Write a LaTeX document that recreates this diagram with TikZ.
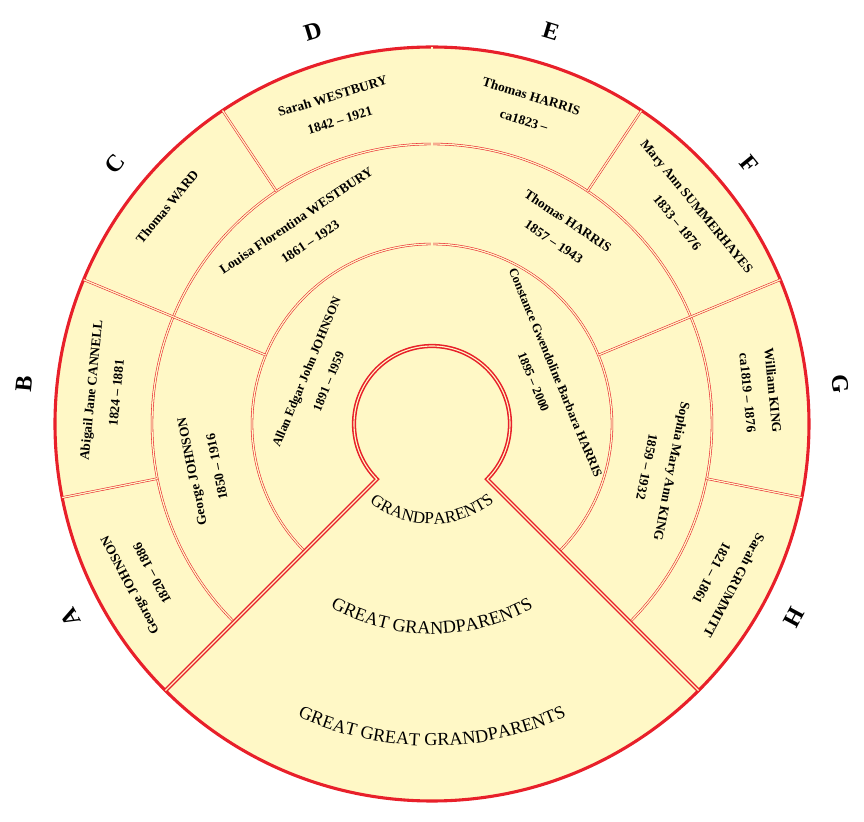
\documentclass[tikz,border=0pt]{standalone}
\usepackage{fontspec}
\setmainfont{Liberation Serif}
\usetikzlibrary{decorations.text}
\definecolor{fanfill}{HTML}{FFF8C6}
\definecolor{fanred}{HTML}{E8202A}
\tikzset{
  fanline/.style={draw=fanred, double=fanfill, double distance=0.9pt, line width=0.4pt},
  fanedge/.style={draw=fanred, double=fanfill, double distance=0.8pt, line width=1.1pt},
  person/.style={font=\bfseries\fontsize{9.5}{18}\selectfont, align=center, inner sep=0pt},
  gen/.style={font=\bfseries\fontsize{17}{17}\selectfont, inner sep=0pt},
}
\begin{document}
\begin{tikzpicture}[x=0.025cm,y=0.025cm]
  \useasboundingbox (-432,-398) rectangle (432,424);

  % fond et cercle exterieur
  \fill[fanfill] (0,0) circle (377);
  \draw[fanred, line width=2.2pt] (0,0) circle (377);

  % anneaux
  \draw[fanline] (-45:180) arc (-45:225:180);
  \draw[fanline] (-45:280) arc (-45:225:280);

  % rayons
  \draw[fanline] (90:78) -- (90:377);
  \foreach \a in {22.5,157.5} \draw[fanline] (\a:180) -- (\a:377);
  \foreach \a in {-11.25,56.25,123.75,191.25} \draw[fanline] (\a:280) -- (\a:377);

  % bord du trou et du coin
  \draw[fanedge] (225:377) -- (225:78) arc (225:-45:78) -- (-45:377);

  % generation 1
  \node[person, font=\bfseries\fontsize{9}{17}\selectfont, rotate=67.5] (p1) at (157.5:124) {Allan Edgar John JOHNSON\\1891 -- 1959};
  \node[person, font=\bfseries\fontsize{9}{17}\selectfont, rotate=-67.5] (p2) at (22.5:122) {Constance Gwendoline Barbara HARRIS\\1895 -- 2000};

  % generation 2
  \node[person, rotate=101.25] (p11) at (191.25:232) {George JOHNSON\\1850 -- 1916};
  \node[person, rotate=33.75] (p12) at (123.75:232) {Louisa Florentina WESTBURY\\1861 -- 1923};
  \node[person, rotate=-33.75] (p21) at (56.25:232) {Thomas HARRIS\\1857 -- 1943};
  \node[person, rotate=-101.25] (p22) at (-11.25:232) {Sophia Mary Ann KING\\1859 -- 1932};

  % generation 3
  \foreach \m/\n/\t/\l in {
      208.125/pA/{George JOHNSON\\1820 -- 1886}/A,
      174.375/pB/{Abigail Jane CANNELL\\1824 -- 1881}/B,
      140.625/pC/{Thomas WARD\\\mbox{}}/C,
      106.875/pD/{Sarah WESTBURY\\1842 -- 1921}/D,
      73.125/pE/{Thomas HARRIS\\ca1823 --}/E,
      39.375/pF/{Mary Ann SUMMERHAYES\\1833 -- 1876}/F,
      5.625/pG/{William KING\\ca1819 -- 1876}/G,
      -28.125/pH/{Sarah GRUMMITT\\1821 -- 1861}/H} {
    \node[person, rotate=\m-90] (\n) at (\m:330) {\t};
    \node[gen, rotate=\m-90] (g\l) at (\m:410) {\l};
  }

  % titres du coin
  \path[decorate, decoration={text along path, text align=center,
      text={|\fontsize{12}{12}\selectfont|GRANDPARENTS}}] (220:100) arc (220:320:100);
  \path[decorate, decoration={text along path, text align=center,
      text={|\fontsize{13}{13}\selectfont|GREAT GRANDPARENTS}}] (230:210) arc (230:310:210);
  \path[decorate, decoration={text along path, text align=center,
      text={|\fontsize{13}{13}\selectfont|GREAT GREAT GRANDPARENTS}}] (235:322) arc (235:305:322);
\end{tikzpicture}
\end{document}
